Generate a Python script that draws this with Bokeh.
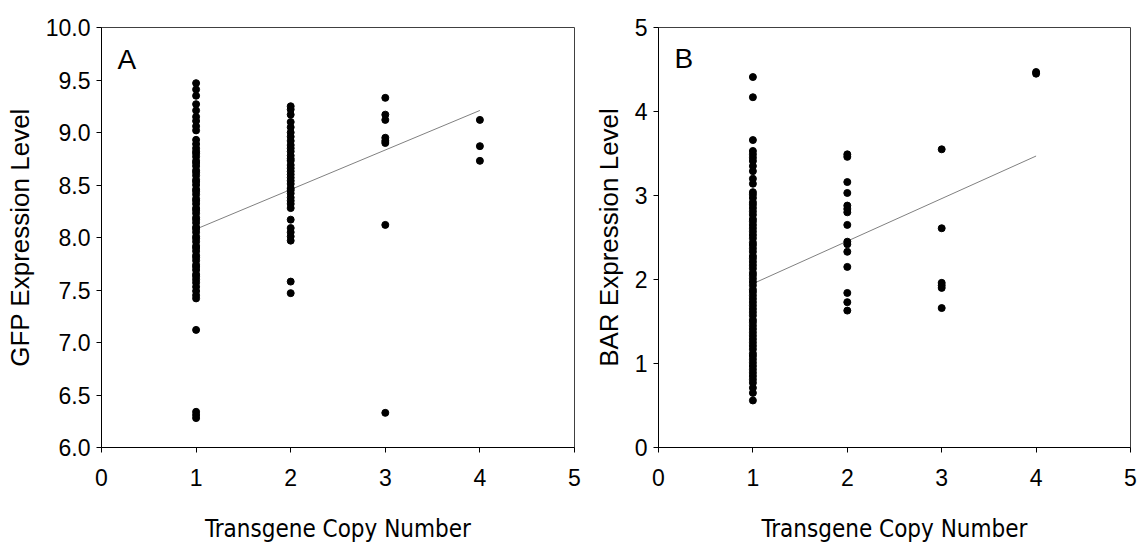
from bokeh.plotting import figure
from bokeh.layouts import row
from bokeh.models import FixedTicker, NumeralTickFormatter, Range1d, Label
from bokeh.embed import file_html
from bokeh.resources import INLINE

# ---- Panel A: GFP expression by transgene copy number ----
gfp_copy1 = [9.47, 9.41, 9.35, 9.27, 9.21, 9.15, 9.11, 9.06, 9.02, 8.93, 8.89, 8.85,
             8.82, 8.80, 8.77, 8.73, 8.71, 8.68, 8.64, 8.62, 8.59, 8.55, 8.53, 8.50,
             8.46, 8.44, 8.41, 8.37, 8.35, 8.32, 8.28, 8.26, 8.23, 8.19, 8.17, 8.14,
             8.10, 8.08, 8.05, 8.01, 7.99, 7.96, 7.92, 7.90, 7.87, 7.83, 7.81, 7.78,
             7.74, 7.72, 7.69, 7.65, 7.63, 7.60, 7.57, 7.53, 7.49, 7.45, 7.42,
             7.12, 6.34, 6.31, 6.28]
gfp_copy2 = [9.25, 9.22, 9.17, 9.10, 9.05, 9.00, 8.96, 8.92, 8.88, 8.85, 8.82, 8.78,
             8.75, 8.73, 8.69, 8.66, 8.63, 8.60, 8.57, 8.54, 8.51, 8.47, 8.45, 8.42,
             8.38, 8.35, 8.32, 8.28, 8.17, 8.09, 8.05, 8.01, 7.97, 7.58, 7.47]
gfp_copy3 = [9.33, 9.17, 9.12, 8.95, 8.92, 8.90, 8.12, 6.33]
gfp_copy4 = [9.12, 8.87, 8.73]

# ---- Panel B: BAR expression by transgene copy number ----
bar_copy1 = [4.41, 4.17, 3.66, 3.53, 3.49, 3.45, 3.41, 3.35, 3.29, 3.20, 3.14,
             3.04, 3.01, 2.97, 2.92, 2.89, 2.85, 2.81, 2.77, 2.72, 2.69, 2.65, 2.61,
             2.57, 2.53, 2.49, 2.44, 2.41, 2.37, 2.33, 2.28, 2.25, 2.21, 2.17, 2.13,
             2.08, 2.05, 2.01, 1.97, 1.93, 1.88, 1.85, 1.81, 1.77, 1.73, 1.69, 1.65,
             1.61, 1.57, 1.52, 1.49, 1.45, 1.41, 1.37, 1.33, 1.29, 1.25, 1.21, 1.17,
             1.12, 1.09, 1.05, 1.01, 0.97, 0.93, 0.89, 0.85, 0.81, 0.77, 0.71, 0.65,
             0.56]
bar_copy2 = [3.49, 3.46, 3.16, 3.03, 2.88, 2.84, 2.80, 2.65, 2.45, 2.42, 2.33,
             2.15, 1.84, 1.73, 1.63]
bar_copy3 = [3.55, 2.61, 1.96, 1.93, 1.90, 1.66]
bar_copy4 = [4.47, 4.45]

# linear fits, evaluated at copy number 1 and 4
fit_x = [1, 4]
gfp_fit = [8.08, 9.21]
bar_fit = [1.95, 3.47]

x_ticks = [0, 1, 2, 3, 4, 5]
gfp_ticks = [6.0, 6.5, 7.0, 7.5, 8.0, 8.5, 9.0, 9.5, 10.0]
bar_ticks = [0, 1, 2, 3, 4, 5]

FONT = "Liberation Sans"
NARROW = "DejaVu Sans Condensed"


def groups_to_xy(groups):
    xs, ys = [], []
    for copies, vals in groups:
        xs.extend([copies] * len(vals))
        ys.extend(vals)
    return xs, ys


def make_panel(width, borders, y_range, y_ticks, y_fmt, y_label, groups, fit, letter, letter_y):
    left, right, top, bottom = borders
    p = figure(width=width, height=546, output_backend="svg", toolbar_location=None,
               x_range=Range1d(0, 5), y_range=Range1d(*y_range),
               min_border_left=left, min_border_right=right,
               min_border_top=top, min_border_bottom=bottom)
    p.xgrid.visible = False
    p.ygrid.visible = False
    p.outline_line_color = "#404040"
    p.outline_line_width = 1
    p.background_fill_color = "white"
    p.border_fill_color = "white"

    for ax in (p.xaxis[0], p.yaxis[0]):
        ax.axis_line_color = "black"
        ax.major_tick_line_color = "black"
        ax.major_tick_out = 5
        ax.major_tick_in = 0
        ax.minor_tick_line_color = None
        ax.major_label_text_font = FONT
        ax.major_label_text_font_size = "23px"
        ax.major_label_text_color = "black"
        ax.axis_label_text_font_style = "normal"
        ax.axis_label_text_color = "black"

    p.xaxis.ticker = FixedTicker(ticks=x_ticks)
    p.xaxis.axis_label = "Transgene Copy Number"
    p.xaxis.axis_label_text_font = NARROW
    p.xaxis.axis_label_text_font_size = "24px"
    p.xaxis.major_label_standoff = 16
    p.xaxis.axis_label_standoff = 26

    p.yaxis.ticker = FixedTicker(ticks=y_ticks)
    p.yaxis.formatter = NumeralTickFormatter(format=y_fmt)
    p.yaxis.axis_label = y_label
    p.yaxis.axis_label_text_font = FONT
    p.yaxis.axis_label_text_font_size = "26px"
    p.yaxis.major_label_standoff = 6
    p.yaxis.axis_label_standoff = 8

    xs, ys = groups_to_xy(groups)
    p.line(fit_x, fit, line_color="#808080", line_width=1)
    p.scatter(xs, ys, size=7, marker="circle", fill_color="black", line_color="black")

    p.add_layout(Label(x=0.17, y=letter_y, text=letter, text_font=FONT,
                       text_font_size="28px", text_color="black",
                       text_baseline="alphabetic"))
    return p


pA = make_panel(590, (101, 16, 23, 99), (6, 10), gfp_ticks, "0.0",
                "GFP Expression Level",
                [(1, gfp_copy1), (2, gfp_copy2), (3, gfp_copy3), (4, gfp_copy4)],
                gfp_fit, "A", 9.70)
pB = make_panel(553, (67, 13, 27, 95), (0, 5), bar_ticks, "0",
                "BAR Expression Level",
                [(1, bar_copy1), (2, bar_copy2), (3, bar_copy3), (4, bar_copy4)],
                bar_fit, "B", 4.63)

layout = row(pA, pB)
open("out.html", "w").write(file_html(layout, INLINE))
